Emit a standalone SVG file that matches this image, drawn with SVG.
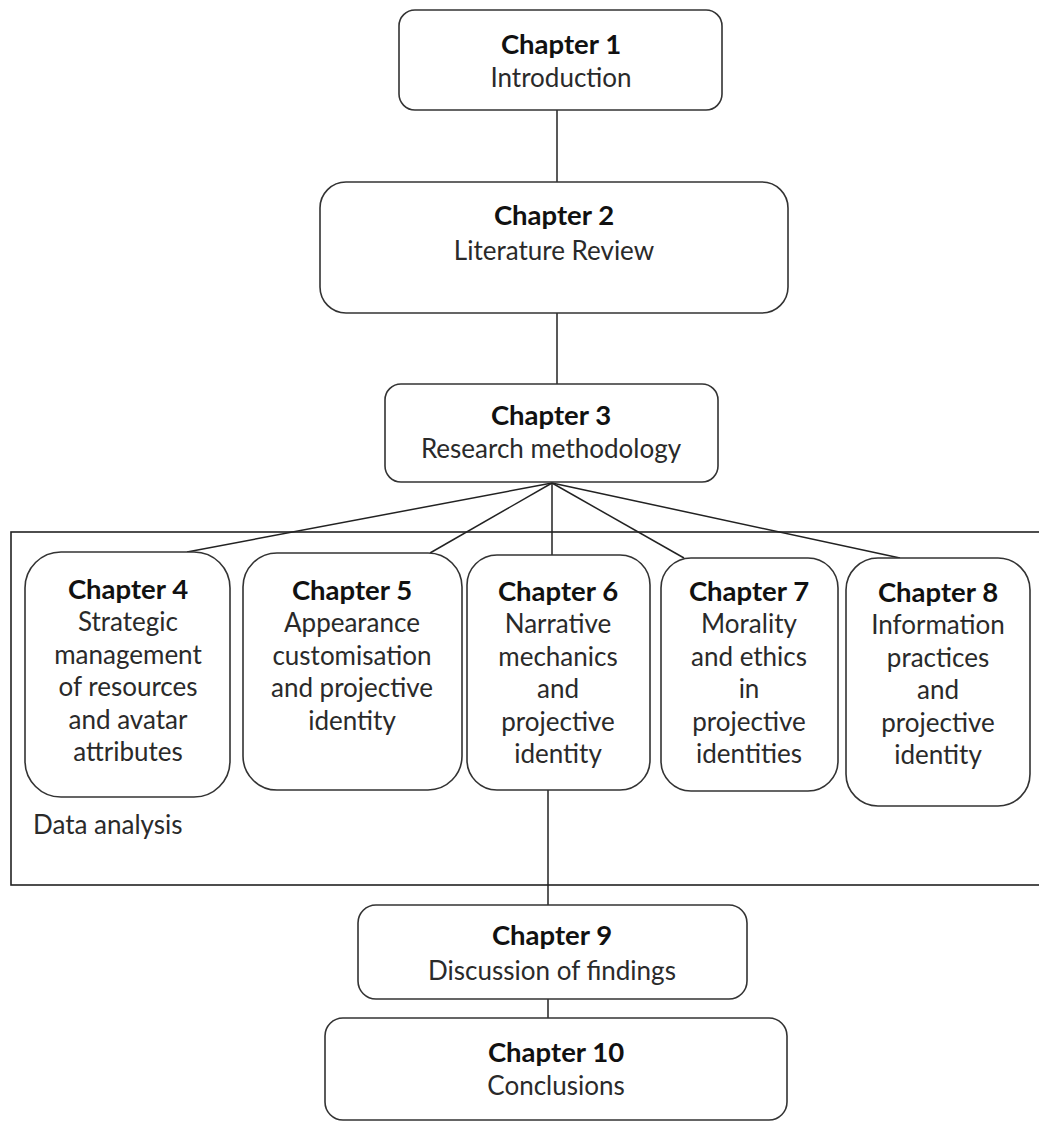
<svg xmlns="http://www.w3.org/2000/svg" width="1039" height="1127" viewBox="0 0 1039 1127">
<style>
.box{fill:#fff;stroke:#333;stroke-width:1.6}
.frame{fill:none;stroke:#222;stroke-width:1.6}
.conn line{stroke:#222;stroke-width:1.5}
text{font-family:Lato,"Open Sans",sans-serif;font-size:26px;fill:#2a2a2a;text-anchor:middle}
.t{font-weight:bold;font-size:27.5px;fill:#111}
.lbl{text-anchor:start}
</style>
<rect width="1039" height="1127" fill="#fff"/>
<g id="data-analysis">
<rect class="frame" x="11" y="532" width="1040" height="353"/>
<text class="lbl" x="33" y="834">Data analysis</text>
</g>
<g class="conn" id="connectors">
<line x1="557" y1="110" x2="557" y2="182"/>
<line x1="557" y1="313" x2="557" y2="384"/>
<line x1="552" y1="483" x2="187" y2="552"/>
<line x1="552" y1="483" x2="430" y2="553"/>
<line x1="552" y1="483" x2="552" y2="555"/>
<line x1="552" y1="483" x2="684" y2="558"/>
<line x1="552" y1="483" x2="900" y2="558"/>
<line x1="548" y1="790" x2="548" y2="905"/>
<line x1="548" y1="999" x2="548" y2="1018"/>
</g>
<g id="ch1">
<rect class="box" x="399" y="10" width="323" height="100" rx="16"/>
<text class="t" x="561" y="54">Chapter 1</text>
<text x="561" y="87">Introduction</text>
</g>
<g id="ch2">
<rect class="box" x="320" y="182" width="468" height="131" rx="26"/>
<text class="t" x="554" y="225">Chapter 2</text>
<text x="554" y="260">Literature Review</text>
</g>
<g id="ch3">
<rect class="box" x="385" y="384" width="333" height="98" rx="16"/>
<text class="t" x="551" y="425">Chapter 3</text>
<text x="551" y="458">Research methodology</text>
</g>
<g id="ch4">
<rect class="box" x="25" y="552" width="205" height="245" rx="36"/>
<text class="t" x="128" y="599">Chapter 4</text>
<text x="128" y="631">Strategic</text>
<text x="128" y="663.5">management</text>
<text x="128" y="696">of resources</text>
<text x="128" y="728.5">and avatar</text>
<text x="128" y="761">attributes</text>
</g>
<g id="ch5">
<rect class="box" x="243" y="553" width="219" height="237" rx="34"/>
<text class="t" x="352" y="600">Chapter 5</text>
<text x="352" y="632">Appearance</text>
<text x="352" y="664.5">customisation</text>
<text x="352" y="697">and projective</text>
<text x="352" y="729.5">identity</text>
</g>
<g id="ch6">
<rect class="box" x="467" y="555" width="183" height="235" rx="30"/>
<text class="t" x="558" y="601">Chapter 6</text>
<text x="558" y="633">Narrative</text>
<text x="558" y="665.5">mechanics</text>
<text x="558" y="698">and</text>
<text x="558" y="730.5">projective</text>
<text x="558" y="763">identity</text>
</g>
<g id="ch7">
<rect class="box" x="661" y="558" width="177" height="233" rx="30"/>
<text class="t" x="749" y="601">Chapter 7</text>
<text x="749" y="633">Morality</text>
<text x="749" y="665.5">and ethics</text>
<text x="749" y="698">in</text>
<text x="749" y="730.5">projective</text>
<text x="749" y="763">identities</text>
</g>
<g id="ch8">
<rect class="box" x="846" y="558" width="184" height="248" rx="32"/>
<text class="t" x="938" y="602">Chapter 8</text>
<text x="938" y="634">Information</text>
<text x="938" y="666.5">practices</text>
<text x="938" y="699">and</text>
<text x="938" y="731.5">projective</text>
<text x="938" y="764">identity</text>
</g>
<g id="ch9">
<rect class="box" x="358" y="905" width="389" height="94" rx="18"/>
<text class="t" x="552" y="945">Chapter 9</text>
<text x="552" y="980">Discussion of findings</text>
</g>
<g id="ch10">
<rect class="box" x="325" y="1018" width="462" height="102" rx="18"/>
<text class="t" x="556" y="1062">Chapter 10</text>
<text x="556" y="1095">Conclusions</text>
</g>
</svg>
